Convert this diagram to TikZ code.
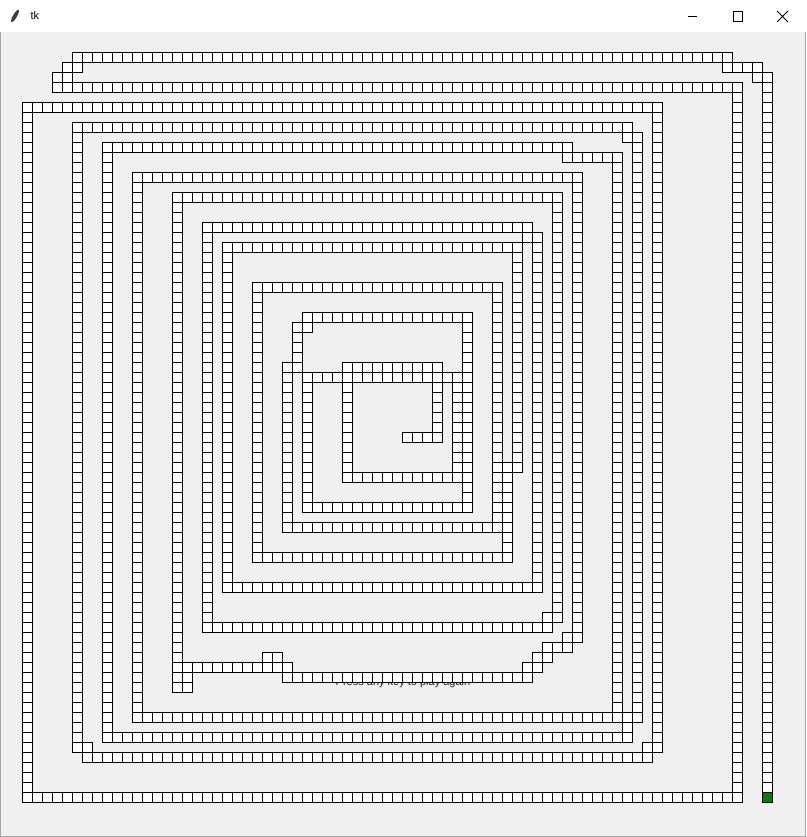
\documentclass[tikz,border=0pt]{standalone}
\usepackage{fontspec}
\setmainfont{Liberation Sans}
\definecolor{winbg}{RGB}{240,240,240}
\definecolor{headgreen}{RGB}{0,128,0}
\newcommand\snakeH[3]{\foreach \cc in {#2,...,#3} {\draw[cell] ({22+10*\cc},{52+10*#1}) rectangle ++(10,10);}}
\newcommand\snakeV[3]{\foreach \rr in {#2,...,#3} {\draw[cell] ({22+10*#1},{52+10*\rr}) rectangle ++(10,10);}}
\begin{document}
\begin{tikzpicture}[x=1pt,y=-1pt,
  cell/.style={draw=black,fill=white,line width=0.9pt},
  headcell/.style={draw=black,fill=headgreen,line width=0.9pt},
  winbtn/.style={draw=black,line width=0.8pt}]
\useasboundingbox (0,0) rectangle (806,837);
\fill[white] (0,0) rectangle (806,32);
\fill[winbg] (0,32) rectangle (806,837);
\draw[gray!70,line width=1pt] (0.5,32) -- (0.5,836.5) -- (805.5,836.5) -- (805.5,32);
% title bar
\fill[black!75,rotate around={60:(15,16)}] (15,16) ellipse (7 and 2);
\node[anchor=west,font=\fontsize{11}{12}\selectfont] (title) at (27,16) {tk};
\draw[winbtn] (688,16.5) -- (697,16.5);
\draw[winbtn] (733,11.5) rectangle (742,21.5);
\draw[winbtn] (777,11) -- (788,22) (788,11) -- (777,22);
% text partly hidden behind the snake
\node[anchor=base,font=\fontsize{11}{12}\selectfont,text=black!85] (msg) at (403,685.5) {Press any key to play again};
% snake body: horizontal runs
\snakeH{0}{5}{70}
\snakeH{1}{4}{5}
\snakeH{1}{70}{73}
\snakeH{2}{3}{4}
\snakeH{2}{73}{74}
\snakeH{3}{3}{71}
\snakeH{5}{0}{63}
\snakeH{7}{5}{60}
\snakeH{8}{60}{61}
\snakeH{9}{8}{54}
\snakeH{10}{54}{59}
\snakeH{12}{11}{55}
\snakeH{14}{15}{53}
\snakeH{17}{18}{50}
\snakeH{18}{50}{51}
\snakeH{19}{20}{49}
\snakeH{23}{23}{47}
\snakeH{26}{28}{44}
\snakeH{27}{27}{28}
\snakeH{31}{26}{27}
\snakeH{31}{32}{41}
\snakeH{32}{28}{43}
\snakeH{38}{38}{41}
\snakeH{41}{48}{49}
\snakeH{42}{32}{43}
\snakeH{45}{28}{44}
\snakeH{47}{26}{47}
\snakeH{50}{23}{48}
\snakeH{53}{20}{51}
\snakeH{56}{52}{53}
\snakeH{57}{18}{52}
\snakeH{58}{54}{55}
\snakeH{59}{52}{54}
\snakeH{60}{51}{52}
\snakeH{60}{24}{25}
\snakeH{61}{50}{51}
\snakeH{61}{15}{26}
\snakeH{62}{26}{50}
\snakeH{62}{15}{16}
\snakeH{63}{15}{16}
\snakeH{66}{11}{61}
\snakeH{67}{60}{60}
\snakeH{68}{8}{60}
\snakeH{69}{5}{6}
\snakeH{69}{62}{63}
\snakeH{70}{6}{62}
\snakeH{74}{0}{71}
% vertical runs
\snakeV{0}{5}{74}
\snakeV{5}{7}{69}
\snakeV{8}{9}{68}
\snakeV{11}{12}{66}
\snakeV{15}{14}{63}
\snakeV{18}{17}{57}
\snakeV{20}{19}{53}
\snakeV{23}{23}{50}
\snakeV{26}{31}{47}
\snakeV{27}{27}{31}
\snakeV{28}{32}{45}
\snakeV{32}{31}{42}
\snakeV{41}{31}{38}
\snakeV{43}{32}{42}
\snakeV{44}{26}{45}
\snakeV{47}{23}{47}
\snakeV{48}{41}{50}
\snakeV{49}{19}{41}
\snakeV{51}{18}{53}
\snakeV{53}{14}{56}
\snakeV{55}{12}{58}
\snakeV{59}{10}{66}
\snakeV{61}{8}{66}
\snakeV{63}{5}{69}
\snakeV{71}{3}{74}
\snakeV{74}{2}{73}
% head
\draw[headcell] (762,792) rectangle ++(10,10);
\end{tikzpicture}
\end{document}
